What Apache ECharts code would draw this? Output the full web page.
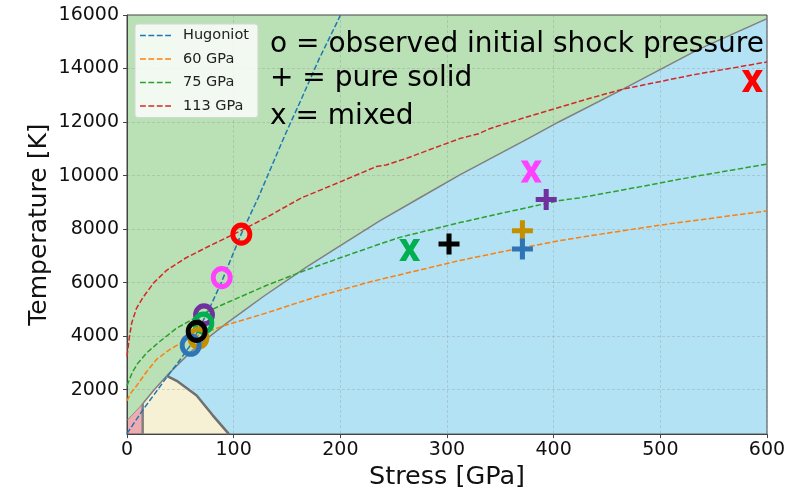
<!DOCTYPE html>
<html><head><meta charset="utf-8">
<script src="https://cdn.jsdelivr.net/npm/echarts@6/dist/echarts.min.js"></script>
<style>html,body{margin:0;padding:0;background:#fff}#c{width:797px;height:495px}</style>
</head><body><div id="c"></div>
<script>
// ---- axis ranges and ticks ----
const xRange = [0, 600];
const yRange = [340, 16000];
const xTicks = [0, 100, 200, 300, 400, 500, 600];
const yTicks = [2000, 4000, 6000, 8000, 10000, 12000, 14000, 16000];

// ---- Hugoniot and isentropes ----
const hugP = [0, 15, 37, 50, 60, 78, 88, 107, 123, 148, 163.5, 180, 198, 202];
const hugT = [360, 1250, 2450, 3130, 3690, 5100, 5964, 7810, 9170, 11505, 12860, 14350, 15815, 16180];

const iso60P = [0, 4, 9.1, 18, 27.8, 40, 56, 90, 131, 177.5, 230, 277.5, 312, 360, 405.6, 424, 500, 600];
const iso60T = [1590, 1900, 2150, 2650, 3134, 3500, 3870, 4380, 4870, 5472, 6050, 6500, 6828, 7220, 7567, 7689, 8150, 8680];

const iso75P = [0, 5, 10, 18.6, 30.7, 46.6, 70, 93.7, 131, 166.6, 200, 237, 255.6, 312, 360, 405.6, 424, 470, 530, 600];
const iso75T = [2150, 2650, 2980, 3380, 3800, 4300, 4820, 5250, 5900, 6450, 6930, 7441, 7690, 8243, 8670, 9067, 9166, 9500, 9950, 10430];

const iso113P = [0, 2, 4.4, 9, 15.4, 25, 37.2, 55, 74.7, 87.6, 107, 130, 163.5, 190, 212, 233.8, 243, 262, 290, 312, 330, 340, 370, 405.6, 435, 465, 530, 600];
const iso113T = [3250, 3900, 4490, 5050, 5470, 5990, 6460, 6920, 7320, 7568, 7950, 8420, 9166, 9600, 9968, 10337, 10397, 10644, 11060, 11382, 11567, 11752, 12130, 12553, 12900, 13230, 13760, 14245];

// ---- phase boundaries ----
const meltP = [37.3, 50, 62.3, 77.6, 93.5, 110, 127.5, 168.2, 200, 236.9, 275, 312, 376, 405.6, 465, 535.3, 600];
const meltT = [2517, 3030, 3500, 3990, 4486, 4965, 5472, 6580, 7380, 8305, 9180, 10027, 11382, 12022, 13230, 14707, 15865];
const solidP = [37.3, 46.6, 65.3, 80, 95.6];
const solidT = [2517, 2332, 1780, 1060, 340];
const lowP = [14.7, 24.7, 37.3];
const lowT = [1471, 1960, 2517];
const pinkP = [0, 14.7];
const pinkT = [850, 1471];
const wallP = [14.7, 14.7];
const wallT = [1471, 340];

// ---- markers ----
const circleP = [72.2, 71.6, 67, 59.7, 65.3, 88.8, 107.2];
const circleT = [4796, 4486, 3932, 3662, 4180, 6187, 7810];
const plusP = [301.9, 370.7, 370.7, 393];
const plusT = [7441, 7936, 7257, 9103];
const crossP = [265, 379, 586.3];
const crossT = [7220, 10152, 13537];

// ---- styles ----
const circleColors = ['#7030a0', '#00b050', '#c49000', '#2e75b6', '#000000', '#ff40ff', '#ff0000'];
const plusColors = ['#000000', '#c49000', '#2e75b6', '#7030a0'];
const crossColors = ['#00b050', '#ff40ff', '#ff0000'];
const FONT = 'DejaVu Sans';

const zip = (a, b) => a.map((v, i) => [v, b[i]]);

function region(pts, fill) {
  return {
    type: 'custom', silent: true, z: 0, clip: true,
    data: [pts[0]],
    renderItem(params, api) {
      const points = pts.map(p => api.coord(p));
      return { type: 'polygon', shape: { points }, style: { fill: fill, stroke: null } };
    }
  };
}
function gline(p, t, color, width) {
  return { type: 'line', data: zip(p, t), symbol: 'none', silent: true, z: 2,
    lineStyle: { color: color, width: width }, animation: false };
}
const dashIcon = 'path://M0,0H5.5V1.5H0Z M7.9,0H13.4V1.5H7.9Z M15.8,0H21.3V1.5H15.8Z M23.7,0H29.2V1.5H23.7Z';
function dline(name, p, t, color) {
  return { name, type: 'line', data: zip(p, t), symbol: 'none', z: 3, clip: true,
    legendIcon: dashIcon, itemStyle: { color: color },
    lineStyle: { color: color, width: 1.5, type: [5.5, 2.4] }, animation: false };
}

const bg = [[xRange[0], yRange[0]], [xRange[0], yRange[1]], [xRange[1], yRange[1]], [xRange[1], yRange[0]]];
const bluePoly = zip(meltP, meltT).concat([[xRange[1], yRange[0]]]).concat(zip(solidP, solidT).reverse());
const yellowPoly = [[wallP[1], wallT[1]]].concat(zip(lowP, lowT)).concat(zip(solidP, solidT).slice(1));
const pinkPoly = [[xRange[0], yRange[0]]].concat(zip(pinkP, pinkT)).concat([[wallP[1], wallT[1]]]);

const plusPath = 'path://M-1.2,-5H1.2V-1.2H5V1.2H1.2V5H-1.2V1.2H-5V-1.2H-1.2Z';
const crossPath = 'path://M0,0H3.2L5,3.1L6.8,0H10L6.7,5L10,10H6.8L5,6.9L3.2,10H0L3.3,5Z';

const markerSeries = [];
circleP.forEach((p, i) => markerSeries.push({
  type: 'scatter', data: [[p, circleT[i]]], symbol: 'circle', symbolSize: [17, 18], z: 5, silent: true,
  itemStyle: { color: 'rgba(0,0,0,0)', borderColor: circleColors[i], borderWidth: 5, opacity: 1 }
}));
plusP.forEach((p, i) => markerSeries.push({
  type: 'scatter', data: [[p, plusT[i]]], symbol: plusPath, symbolSize: 21, z: 5, silent: true,
  itemStyle: { color: plusColors[i], opacity: 1 }
}));
crossP.forEach((p, i) => markerSeries.push({
  type: 'scatter', data: [[p, crossT[i]]], symbol: crossPath, symbolSize: [21, 22], z: 5, silent: true,
  itemStyle: { color: crossColors[i], opacity: 1 }
}));

const legendNames = ['Hugoniot', '60 GPa', '75 GPa', '113 GPa'];

const chart = echarts.init(document.getElementById('c'));
chart.setOption({
  animation: false,
  textStyle: { fontFamily: FONT },
  grid: { left: 127, top: 15, width: 640, height: 424, show: true, borderColor: '#444', borderWidth: 1, z: 1, backgroundColor: 'transparent' },
  legend: {
    data: legendNames.map(n => ({ name: n, icon: dashIcon })),
    icon: dashIcon,
    orient: 'vertical', left: 135, top: 24,
    itemWidth: 31, itemHeight: 14, itemGap: 8.5,
    padding: [4, 9, 4, 5],
    backgroundColor: 'rgba(255,255,255,0.8)', borderColor: '#d6d6d6', borderWidth: 1, borderRadius: 3,
    selectedMode: false, z: 20,
    textStyle: { fontSize: 14.5, color: '#222', fontFamily: FONT, padding: [0, 0, 0, 7] }
  },
  xAxis: {
    type: 'value', min: xRange[0], max: xRange[1], interval: 100, z: 1,
    name: 'Stress [GPa]', nameLocation: 'middle', nameGap: 27,
    nameTextStyle: { fontSize: 25.5, color: '#111', fontFamily: FONT },
    axisLine: { show: true, lineStyle: { color: '#444', width: 1 } },
    axisTick: { show: true, length: 4, lineStyle: { color: '#444' } },
    axisLabel: { fontSize: 19, color: '#111', margin: 6, fontFamily: FONT, formatter: v => String(v) },
    splitLine: { show: true, lineStyle: { color: 'rgba(140,140,140,0.3)', type: [3, 2], width: 1 } }
  },
  yAxis: {
    type: 'value', min: yRange[0], max: yRange[1], z: 1,
    name: 'Temperature [K]', nameLocation: 'middle', nameGap: 75, nameMoveOverlap: false,
    nameTextStyle: { fontSize: 25, color: '#111', fontFamily: FONT },
    axisLine: { show: true, lineStyle: { color: '#444', width: 1 } },
    axisTick: { show: true, length: 4, lineStyle: { color: '#444' }, customValues: yTicks },
    axisLabel: { fontSize: 19, color: '#111', margin: 8, fontFamily: FONT, customValues: yTicks, formatter: v => String(v) },
    splitLine: { show: true, lineStyle: { color: 'rgba(140,140,140,0.3)', type: [3, 2], width: 1 } }
  },
  graphic: [
    { type: 'text', x: 270, y: 45, z: 100, style: { text: 'o = observed initial shock pressure', font: '28px "DejaVu Sans"', fill: '#000', verticalAlign: 'middle' } },
    { type: 'text', x: 270, y: 79, z: 100, style: { text: '+ = pure solid', font: '28px "DejaVu Sans"', fill: '#000', verticalAlign: 'middle' } },
    { type: 'text', x: 270, y: 117, z: 100, style: { text: 'x = mixed', font: '28px "DejaVu Sans"', fill: '#000', verticalAlign: 'middle' } }
  ],
  series: [
    region(bg, '#bae0b5'),
    region(bluePoly, '#b2e2f3'),
    region(yellowPoly, '#f6f0d4'),
    region(pinkPoly, '#eeabb0'),
    gline(meltP, meltT, '#808080', 1.5),
    gline(solidP, solidT, '#707070', 2.5),
    gline(lowP, lowT, '#808080', 1.5),
    gline(pinkP, pinkT, '#909090', 1),
    gline(wallP, wallT, '#808080', 2.5),
    dline('Hugoniot', hugP, hugT, '#1f77b4'),
    dline('60 GPa', iso60P, iso60T, '#ff7f0e'),
    dline('75 GPa', iso75P, iso75T, '#2ca02c'),
    dline('113 GPa', iso113P, iso113T, '#d62728')
  ].concat(markerSeries)
});
</script></body></html>
